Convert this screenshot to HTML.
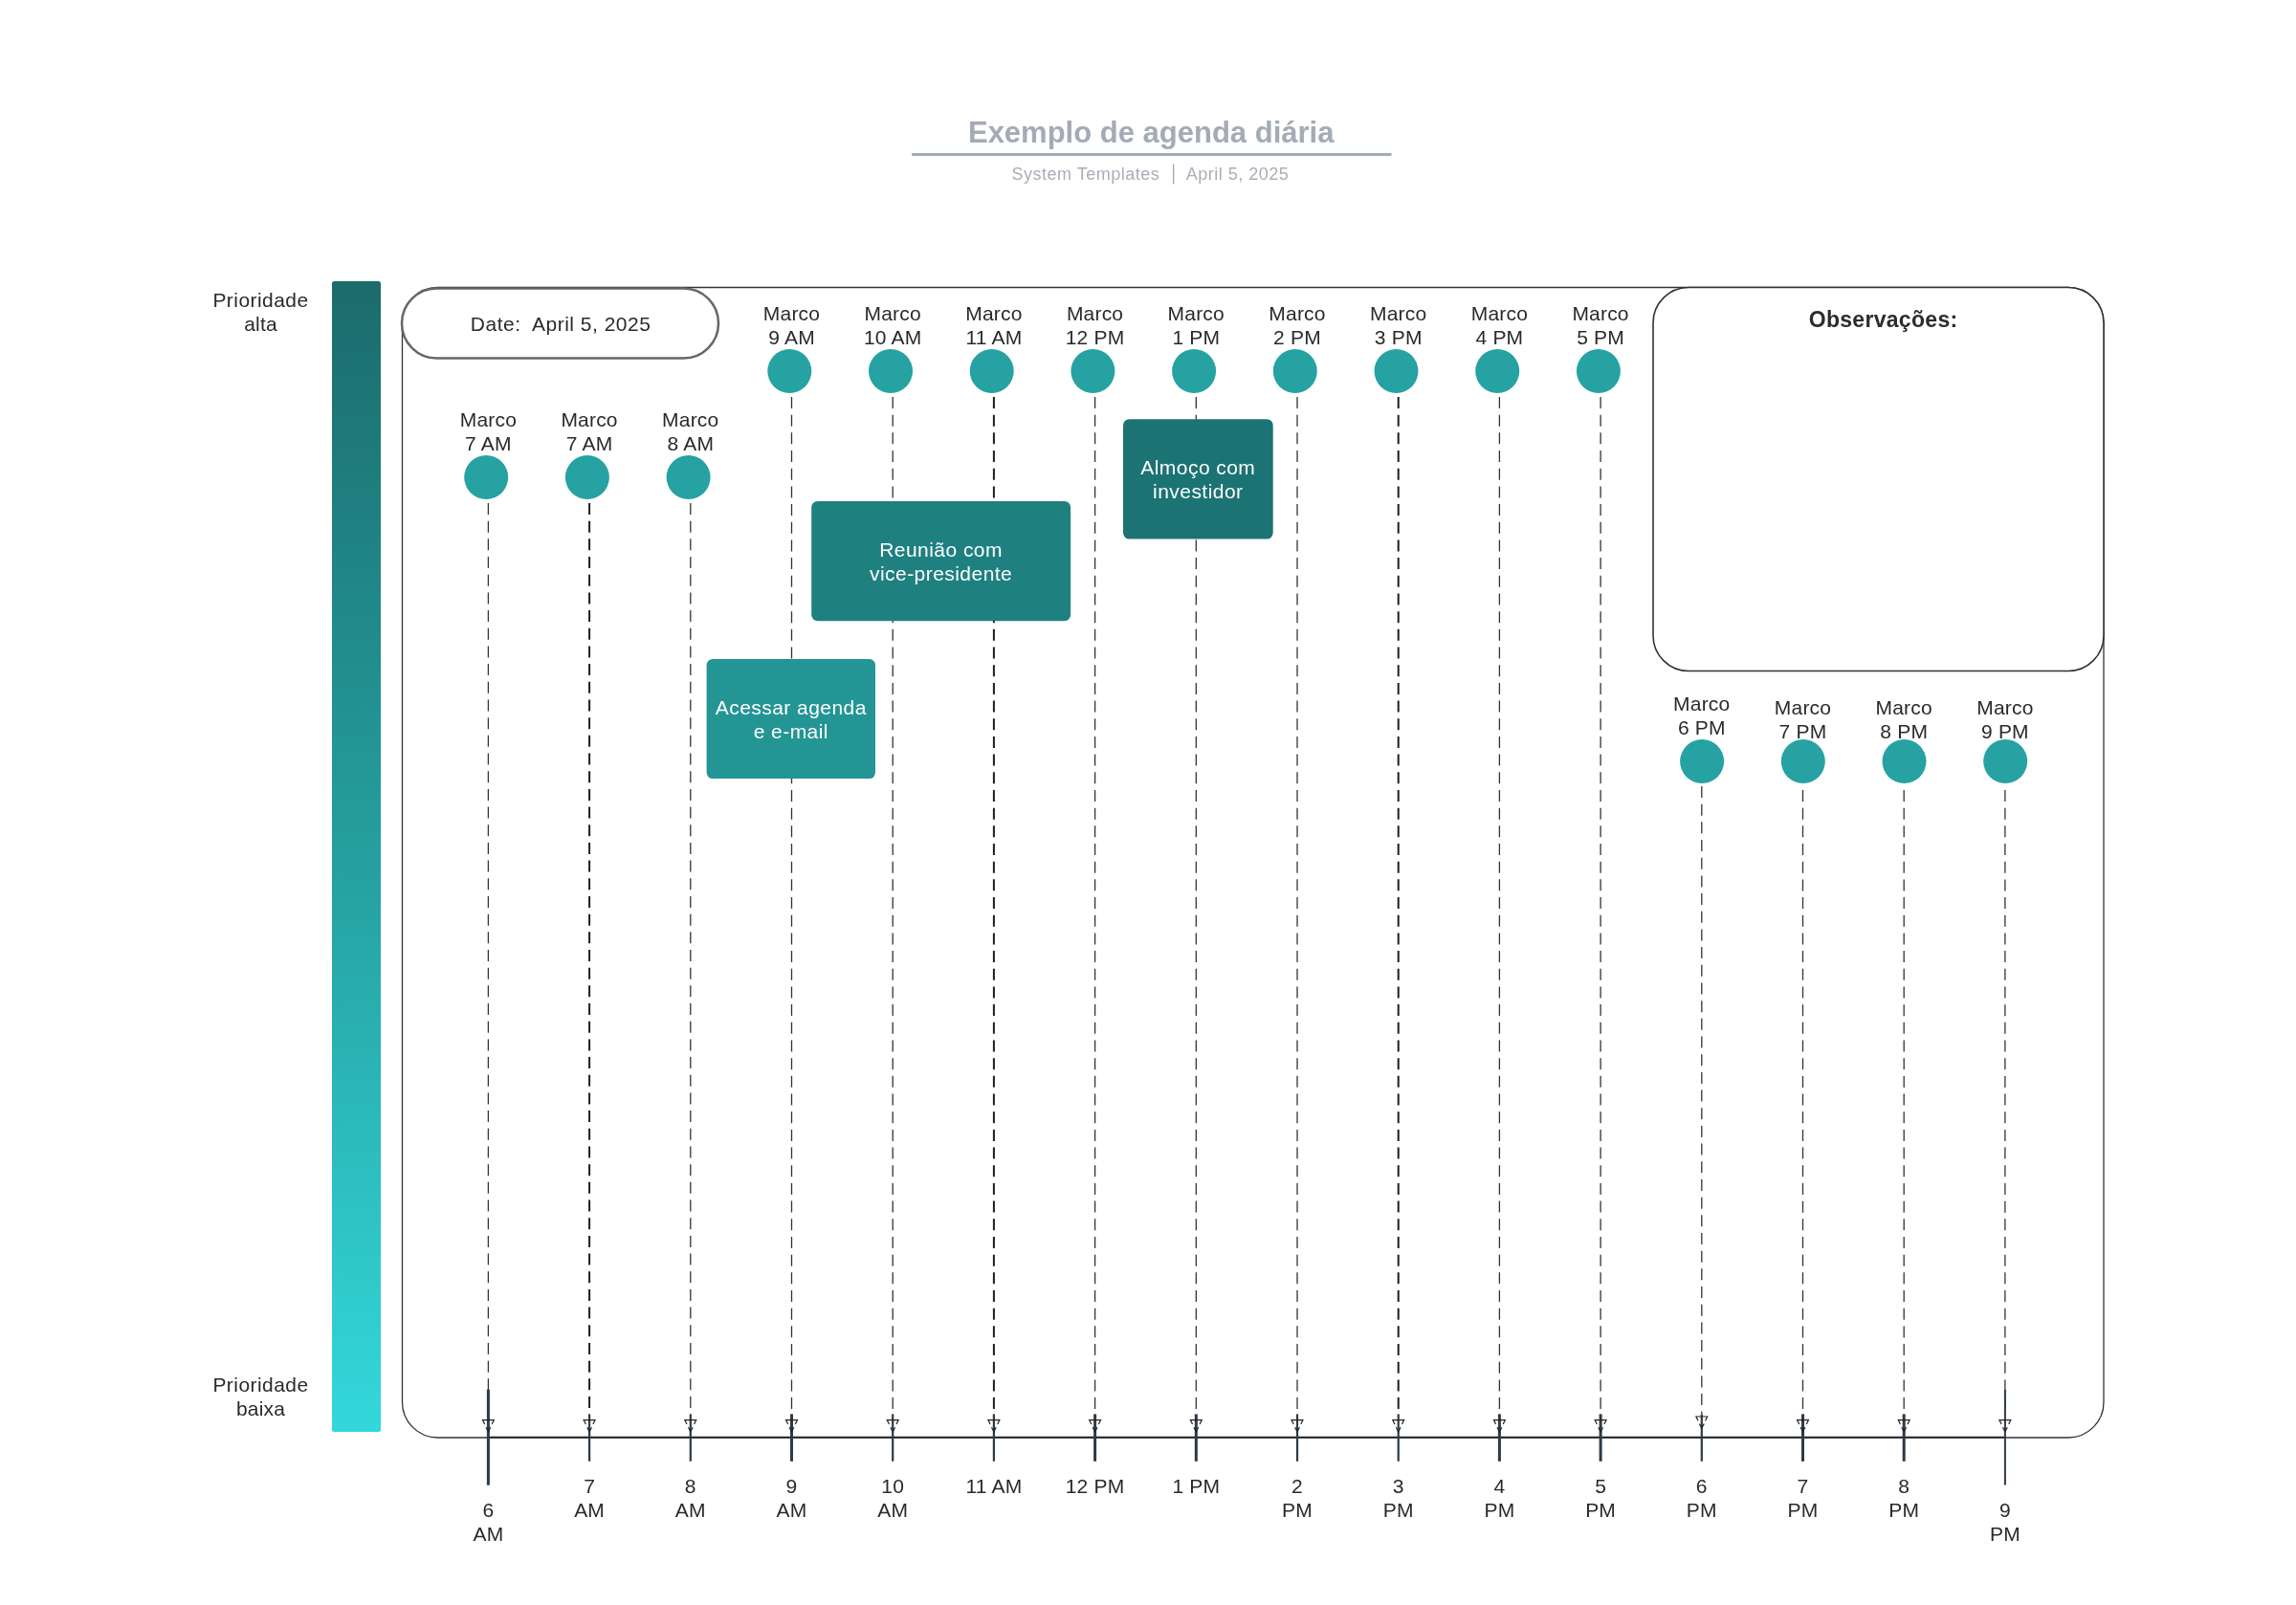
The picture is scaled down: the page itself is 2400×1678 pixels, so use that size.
<!DOCTYPE html>
<html><head><meta charset="utf-8"><title>Exemplo de agenda diária</title>
<style>
html,body{margin:0;padding:0;background:#fff;}
body{width:2400px;height:1678px;overflow:hidden;}
svg{display:block;font-family:"Liberation Sans", sans-serif;will-change:transform;}
text{letter-spacing:0.2px;}
</style></head>
<body>
<svg width="2400" height="1678" viewBox="0 0 2400 1678">
<rect x="0" y="0" width="2400" height="1678" fill="#fff"/>
<defs>
<linearGradient id="gb" x1="0" y1="0" x2="0" y2="1">
<stop offset="0" stop-color="#1c6b6c"/>
<stop offset="0.5" stop-color="#259f9f"/>
<stop offset="1" stop-color="#33d8db"/>
</linearGradient>
</defs>
<text x="1203.2" y="149.0" text-anchor="middle" font-size="31" font-weight="bold" fill="#a3abb6" style="letter-spacing:0px">Exemplo de agenda diária</text>
<rect x="953" y="160" width="501.5" height="3" fill="#a3abb6"/>
<text x="1212.3" y="188.4" text-anchor="end" font-size="18" style="letter-spacing:0.5px" fill="#a8aeb8">System Templates</text>
<text x="1239.7" y="188.4" text-anchor="start" font-size="18" style="letter-spacing:0.5px" fill="#a8aeb8">April 5, 2025</text>
<rect x="1225.9" y="171.5" width="1.5" height="21" fill="#a8aeb8"/>
<rect x="347" y="294" width="51" height="1203" rx="2.5" fill="url(#gb)"/>
<text x="272.5" y="320.6" text-anchor="middle" font-size="21" fill="#2a2a2a" style="letter-spacing:0.45px">Prioridade</text>
<text x="272.5" y="345.5" text-anchor="middle" font-size="21" fill="#2a2a2a">alta</text>
<text x="272.5" y="1454.9" text-anchor="middle" font-size="21" fill="#2a2a2a" style="letter-spacing:0.45px">Prioridade</text>
<text x="272.5" y="1480.4" text-anchor="middle" font-size="21" fill="#2a2a2a">baixa</text>
<rect x="420.5" y="300.5" width="1778.5" height="1202.5" rx="37" fill="none" stroke="#333" stroke-width="1.3"/>
<line x1="510.4" y1="526" x2="510.4" y2="1478" stroke="#333" stroke-width="1.3" stroke-dasharray="12 6.68"/>
<line x1="616.1" y1="526" x2="616.1" y2="1478" stroke="#1e1e1e" stroke-width="2.0" stroke-dasharray="12 6.68"/>
<line x1="721.8" y1="526" x2="721.8" y2="1478" stroke="#333" stroke-width="1.3" stroke-dasharray="12 6.68"/>
<line x1="827.5" y1="415" x2="827.5" y2="1478" stroke="#333" stroke-width="1.3" stroke-dasharray="12 6.68"/>
<line x1="933.2" y1="415" x2="933.2" y2="1478" stroke="#333" stroke-width="1.3" stroke-dasharray="12 6.68"/>
<line x1="1038.9" y1="415" x2="1038.9" y2="1478" stroke="#1e1e1e" stroke-width="2.0" stroke-dasharray="12 6.68"/>
<line x1="1144.6" y1="415" x2="1144.6" y2="1478" stroke="#333" stroke-width="1.3" stroke-dasharray="12 6.68"/>
<line x1="1250.3" y1="415" x2="1250.3" y2="1478" stroke="#333" stroke-width="1.3" stroke-dasharray="12 6.68"/>
<line x1="1356.0" y1="415" x2="1356.0" y2="1478" stroke="#333" stroke-width="1.3" stroke-dasharray="12 6.68"/>
<line x1="1461.7" y1="415" x2="1461.7" y2="1478" stroke="#1e1e1e" stroke-width="2.0" stroke-dasharray="12 6.68"/>
<line x1="1567.4" y1="415" x2="1567.4" y2="1478" stroke="#333" stroke-width="1.3" stroke-dasharray="12 6.68"/>
<line x1="1673.1" y1="415" x2="1673.1" y2="1478" stroke="#333" stroke-width="1.3" stroke-dasharray="12 6.68"/>
<line x1="1778.8" y1="822" x2="1778.8" y2="1478" stroke="#333" stroke-width="1.3" stroke-dasharray="12 6.68"/>
<line x1="1884.5" y1="826" x2="1884.5" y2="1478" stroke="#333" stroke-width="1.3" stroke-dasharray="12 6.68"/>
<line x1="1990.2" y1="826" x2="1990.2" y2="1478" stroke="#333" stroke-width="1.3" stroke-dasharray="12 6.68"/>
<line x1="2095.9" y1="826" x2="2095.9" y2="1478" stroke="#333" stroke-width="1.3" stroke-dasharray="12 6.68"/>
<line x1="510.4" y1="1502.7" x2="2095.9" y2="1502.7" stroke="#1e2329" stroke-width="1.8"/>
<rect x="508.9" y="1452.7" width="3" height="100" fill="#2d3a47"/>
<path d="M506.6 1488.9 L504.5 1484.7 L516.3 1484.7 L514.2 1488.9 M508.0 1492.3 L510.4 1496.7 L512.8 1492.3" fill="none" stroke="#222" stroke-width="1.2"/>
<rect x="615.0" y="1478.4" width="2.2" height="49.4" fill="#2d3a47"/>
<path d="M612.3 1488.9 L610.2 1484.7 L622.0 1484.7 L619.9 1488.9 M613.7 1492.3 L616.1 1496.7 L618.5 1492.3" fill="none" stroke="#222" stroke-width="1.2"/>
<rect x="720.7" y="1478.4" width="2.2" height="49.4" fill="#2d3a47"/>
<path d="M718.0 1488.9 L715.9 1484.7 L727.7 1484.7 L725.6 1488.9 M719.4 1492.3 L721.8 1496.7 L724.2 1492.3" fill="none" stroke="#222" stroke-width="1.2"/>
<rect x="826.0" y="1478.4" width="3" height="49.4" fill="#2d3a47"/>
<path d="M823.7 1488.9 L821.6 1484.7 L833.4 1484.7 L831.3 1488.9 M825.1 1492.3 L827.5 1496.7 L829.9 1492.3" fill="none" stroke="#222" stroke-width="1.2"/>
<rect x="932.1" y="1478.4" width="2.2" height="49.4" fill="#2d3a47"/>
<path d="M929.4 1488.9 L927.3 1484.7 L939.1 1484.7 L937.0 1488.9 M930.8 1492.3 L933.2 1496.7 L935.6 1492.3" fill="none" stroke="#222" stroke-width="1.2"/>
<rect x="1037.8" y="1478.4" width="2.2" height="49.4" fill="#2d3a47"/>
<path d="M1035.1 1488.9 L1033.0 1484.7 L1044.8 1484.7 L1042.7 1488.9 M1036.5 1492.3 L1038.9 1496.7 L1041.3 1492.3" fill="none" stroke="#222" stroke-width="1.2"/>
<rect x="1143.1" y="1478.4" width="3" height="49.4" fill="#2d3a47"/>
<path d="M1140.8 1488.9 L1138.7 1484.7 L1150.5 1484.7 L1148.4 1488.9 M1142.2 1492.3 L1144.6 1496.7 L1147.0 1492.3" fill="none" stroke="#222" stroke-width="1.2"/>
<rect x="1248.8" y="1478.4" width="3" height="49.4" fill="#2d3a47"/>
<path d="M1246.5 1488.9 L1244.4 1484.7 L1256.2 1484.7 L1254.1 1488.9 M1247.9 1492.3 L1250.3 1496.7 L1252.7 1492.3" fill="none" stroke="#222" stroke-width="1.2"/>
<rect x="1354.9" y="1478.4" width="2.2" height="49.4" fill="#2d3a47"/>
<path d="M1352.2 1488.9 L1350.1 1484.7 L1361.9 1484.7 L1359.8 1488.9 M1353.6 1492.3 L1356.0 1496.7 L1358.4 1492.3" fill="none" stroke="#222" stroke-width="1.2"/>
<rect x="1460.6" y="1478.4" width="2.2" height="49.4" fill="#2d3a47"/>
<path d="M1457.9 1488.9 L1455.8 1484.7 L1467.6 1484.7 L1465.5 1488.9 M1459.3 1492.3 L1461.7 1496.7 L1464.1 1492.3" fill="none" stroke="#222" stroke-width="1.2"/>
<rect x="1565.9" y="1478.4" width="3" height="49.4" fill="#2d3a47"/>
<path d="M1563.6 1488.9 L1561.5 1484.7 L1573.3 1484.7 L1571.2 1488.9 M1565.0 1492.3 L1567.4 1496.7 L1569.8 1492.3" fill="none" stroke="#222" stroke-width="1.2"/>
<rect x="1671.6" y="1478.4" width="3" height="49.4" fill="#2d3a47"/>
<path d="M1669.3 1488.9 L1667.2 1484.7 L1679.0 1484.7 L1676.9 1488.9 M1670.7 1492.3 L1673.1 1496.7 L1675.5 1492.3" fill="none" stroke="#222" stroke-width="1.2"/>
<rect x="1777.7" y="1478.4" width="2.2" height="49.4" fill="#2d3a47"/>
<path d="M1775.0 1485.2 L1772.9 1481 L1784.7 1481 L1782.6 1485.2 M1776.4 1488.6 L1778.8 1493.0 L1781.2 1488.6" fill="none" stroke="#222" stroke-width="1.2"/>
<rect x="1883.0" y="1478.4" width="3" height="49.4" fill="#2d3a47"/>
<path d="M1880.7 1488.9 L1878.6 1484.7 L1890.4 1484.7 L1888.3 1488.9 M1882.1 1492.3 L1884.5 1496.7 L1886.9 1492.3" fill="none" stroke="#222" stroke-width="1.2"/>
<rect x="1988.7" y="1478.4" width="3" height="49.4" fill="#2d3a47"/>
<path d="M1986.4 1488.9 L1984.3 1484.7 L1996.1 1484.7 L1994.0 1488.9 M1987.8 1492.3 L1990.2 1496.7 L1992.6 1492.3" fill="none" stroke="#222" stroke-width="1.2"/>
<rect x="2094.9" y="1453" width="2" height="99.6" fill="#2d3a47"/>
<path d="M2092.1 1488.9 L2090.0 1484.7 L2101.8 1484.7 L2099.7 1488.9 M2093.5 1492.3 L2095.9 1496.7 L2098.3 1492.3" fill="none" stroke="#222" stroke-width="1.2"/>
<rect x="420" y="301.5" width="331" height="73" rx="36.5" fill="#fff" stroke="#666" stroke-width="2.5"/>
<text x="491.8" y="346.4" font-size="21" fill="#2a2a2a" style="letter-spacing:0.5px" xml:space="preserve">Date:  April 5, 2025</text>
<rect x="1728" y="300.5" width="471" height="401" rx="37" fill="#fff" stroke="#333" stroke-width="1.6"/>
<text x="1968.6" y="341.6" text-anchor="middle" font-size="23" style="letter-spacing:0.3px" font-weight="bold" fill="#2c2c2c">Observações:</text>
<circle cx="508.2" cy="499" r="23" fill="#26a2a2"/>
<text x="510.4" y="445.8" text-anchor="middle" font-size="21" fill="#2a2a2a">Marco</text>
<text x="510.4" y="470.8" text-anchor="middle" font-size="21" fill="#2a2a2a">7 AM</text>
<circle cx="613.9" cy="499" r="23" fill="#26a2a2"/>
<text x="616.1" y="445.8" text-anchor="middle" font-size="21" fill="#2a2a2a">Marco</text>
<text x="616.1" y="470.8" text-anchor="middle" font-size="21" fill="#2a2a2a">7 AM</text>
<circle cx="719.6" cy="499" r="23" fill="#26a2a2"/>
<text x="721.8" y="445.8" text-anchor="middle" font-size="21" fill="#2a2a2a">Marco</text>
<text x="721.8" y="470.8" text-anchor="middle" font-size="21" fill="#2a2a2a">8 AM</text>
<circle cx="825.3" cy="388" r="23" fill="#26a2a2"/>
<text x="827.5" y="334.7" text-anchor="middle" font-size="21" fill="#2a2a2a">Marco</text>
<text x="827.5" y="359.7" text-anchor="middle" font-size="21" fill="#2a2a2a">9 AM</text>
<circle cx="931.0" cy="388" r="23" fill="#26a2a2"/>
<text x="933.2" y="334.7" text-anchor="middle" font-size="21" fill="#2a2a2a">Marco</text>
<text x="933.2" y="359.7" text-anchor="middle" font-size="21" fill="#2a2a2a">10 AM</text>
<circle cx="1036.7" cy="388" r="23" fill="#26a2a2"/>
<text x="1038.9" y="334.7" text-anchor="middle" font-size="21" fill="#2a2a2a">Marco</text>
<text x="1038.9" y="359.7" text-anchor="middle" font-size="21" fill="#2a2a2a">11 AM</text>
<circle cx="1142.4" cy="388" r="23" fill="#26a2a2"/>
<text x="1144.6" y="334.7" text-anchor="middle" font-size="21" fill="#2a2a2a">Marco</text>
<text x="1144.6" y="359.7" text-anchor="middle" font-size="21" fill="#2a2a2a">12 PM</text>
<circle cx="1248.1" cy="388" r="23" fill="#26a2a2"/>
<text x="1250.3" y="334.7" text-anchor="middle" font-size="21" fill="#2a2a2a">Marco</text>
<text x="1250.3" y="359.7" text-anchor="middle" font-size="21" fill="#2a2a2a">1 PM</text>
<circle cx="1353.8" cy="388" r="23" fill="#26a2a2"/>
<text x="1356.0" y="334.7" text-anchor="middle" font-size="21" fill="#2a2a2a">Marco</text>
<text x="1356.0" y="359.7" text-anchor="middle" font-size="21" fill="#2a2a2a">2 PM</text>
<circle cx="1459.5" cy="388" r="23" fill="#26a2a2"/>
<text x="1461.7" y="334.7" text-anchor="middle" font-size="21" fill="#2a2a2a">Marco</text>
<text x="1461.7" y="359.7" text-anchor="middle" font-size="21" fill="#2a2a2a">3 PM</text>
<circle cx="1565.2" cy="388" r="23" fill="#26a2a2"/>
<text x="1567.4" y="334.7" text-anchor="middle" font-size="21" fill="#2a2a2a">Marco</text>
<text x="1567.4" y="359.7" text-anchor="middle" font-size="21" fill="#2a2a2a">4 PM</text>
<circle cx="1670.9" cy="388" r="23" fill="#26a2a2"/>
<text x="1673.1" y="334.7" text-anchor="middle" font-size="21" fill="#2a2a2a">Marco</text>
<text x="1673.1" y="359.7" text-anchor="middle" font-size="21" fill="#2a2a2a">5 PM</text>
<circle cx="1779.1" cy="796" r="23" fill="#26a2a2"/>
<text x="1778.8" y="742.9" text-anchor="middle" font-size="21" fill="#2a2a2a">Marco</text>
<text x="1778.8" y="767.9" text-anchor="middle" font-size="21" fill="#2a2a2a">6 PM</text>
<circle cx="1884.8" cy="796" r="23" fill="#26a2a2"/>
<text x="1884.5" y="746.8" text-anchor="middle" font-size="21" fill="#2a2a2a">Marco</text>
<text x="1884.5" y="771.7" text-anchor="middle" font-size="21" fill="#2a2a2a">7 PM</text>
<circle cx="1990.5" cy="796" r="23" fill="#26a2a2"/>
<text x="1990.2" y="746.8" text-anchor="middle" font-size="21" fill="#2a2a2a">Marco</text>
<text x="1990.2" y="771.7" text-anchor="middle" font-size="21" fill="#2a2a2a">8 PM</text>
<circle cx="2096.2" cy="796" r="23" fill="#26a2a2"/>
<text x="2095.9" y="746.8" text-anchor="middle" font-size="21" fill="#2a2a2a">Marco</text>
<text x="2095.9" y="771.7" text-anchor="middle" font-size="21" fill="#2a2a2a">9 PM</text>
<rect x="738.6" y="688.9" width="176.4" height="125.2" rx="6.5" fill="#239595"/>
<text x="826.8" y="746.8" text-anchor="middle" font-size="21" style="letter-spacing:0.45px" fill="#fff">Acessar agenda</text>
<text x="826.8" y="772.0" text-anchor="middle" font-size="21" style="letter-spacing:0.45px" fill="#fff">e e-mail</text>
<rect x="848.2" y="523.9" width="270.9" height="125.3" rx="6.5" fill="#1f8080"/>
<text x="983.6" y="582.0" text-anchor="middle" font-size="21" style="letter-spacing:0.45px" fill="#fff">Reunião com</text>
<text x="983.6" y="606.6" text-anchor="middle" font-size="21" style="letter-spacing:0.45px" fill="#fff">vice-presidente</text>
<rect x="1174" y="438.2" width="156.7" height="125.4" rx="6.5" fill="#1c7373"/>
<text x="1252.3" y="496.3" text-anchor="middle" font-size="21" style="letter-spacing:0.45px" fill="#fff">Almoço com</text>
<text x="1252.3" y="521.2" text-anchor="middle" font-size="21" style="letter-spacing:0.45px" fill="#fff">investidor</text>
<text x="510.4" y="1585.7" text-anchor="middle" font-size="21" fill="#2a2a2a">6</text>
<text x="510.4" y="1610.8" text-anchor="middle" font-size="21" fill="#2a2a2a">AM</text>
<text x="616.1" y="1560.6" text-anchor="middle" font-size="21" fill="#2a2a2a">7</text>
<text x="616.1" y="1585.7" text-anchor="middle" font-size="21" fill="#2a2a2a">AM</text>
<text x="721.8" y="1560.6" text-anchor="middle" font-size="21" fill="#2a2a2a">8</text>
<text x="721.8" y="1585.7" text-anchor="middle" font-size="21" fill="#2a2a2a">AM</text>
<text x="827.5" y="1560.6" text-anchor="middle" font-size="21" fill="#2a2a2a">9</text>
<text x="827.5" y="1585.7" text-anchor="middle" font-size="21" fill="#2a2a2a">AM</text>
<text x="933.2" y="1560.6" text-anchor="middle" font-size="21" fill="#2a2a2a">10</text>
<text x="933.2" y="1585.7" text-anchor="middle" font-size="21" fill="#2a2a2a">AM</text>
<text x="1038.9" y="1560.6" text-anchor="middle" font-size="21" fill="#2a2a2a">11 AM</text>
<text x="1144.6" y="1560.6" text-anchor="middle" font-size="21" fill="#2a2a2a">12 PM</text>
<text x="1250.3" y="1560.6" text-anchor="middle" font-size="21" fill="#2a2a2a">1 PM</text>
<text x="1356.0" y="1560.6" text-anchor="middle" font-size="21" fill="#2a2a2a">2</text>
<text x="1356.0" y="1585.7" text-anchor="middle" font-size="21" fill="#2a2a2a">PM</text>
<text x="1461.7" y="1560.6" text-anchor="middle" font-size="21" fill="#2a2a2a">3</text>
<text x="1461.7" y="1585.7" text-anchor="middle" font-size="21" fill="#2a2a2a">PM</text>
<text x="1567.4" y="1560.6" text-anchor="middle" font-size="21" fill="#2a2a2a">4</text>
<text x="1567.4" y="1585.7" text-anchor="middle" font-size="21" fill="#2a2a2a">PM</text>
<text x="1673.1" y="1560.6" text-anchor="middle" font-size="21" fill="#2a2a2a">5</text>
<text x="1673.1" y="1585.7" text-anchor="middle" font-size="21" fill="#2a2a2a">PM</text>
<text x="1778.8" y="1560.6" text-anchor="middle" font-size="21" fill="#2a2a2a">6</text>
<text x="1778.8" y="1585.7" text-anchor="middle" font-size="21" fill="#2a2a2a">PM</text>
<text x="1884.5" y="1560.6" text-anchor="middle" font-size="21" fill="#2a2a2a">7</text>
<text x="1884.5" y="1585.7" text-anchor="middle" font-size="21" fill="#2a2a2a">PM</text>
<text x="1990.2" y="1560.6" text-anchor="middle" font-size="21" fill="#2a2a2a">8</text>
<text x="1990.2" y="1585.7" text-anchor="middle" font-size="21" fill="#2a2a2a">PM</text>
<text x="2095.9" y="1585.7" text-anchor="middle" font-size="21" fill="#2a2a2a">9</text>
<text x="2095.9" y="1610.8" text-anchor="middle" font-size="21" fill="#2a2a2a">PM</text>
</svg>
</body></html>
